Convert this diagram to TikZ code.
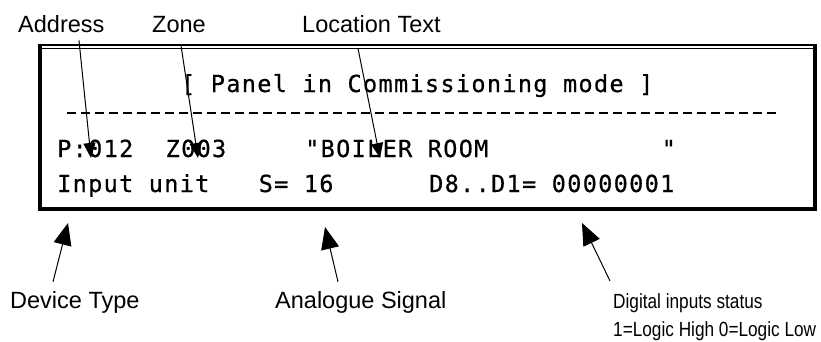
\documentclass[tikz,border=0pt]{standalone}
\usepackage{graphicx}
\usepackage{fontspec}
\setmainfont{Liberation Sans}
\newfontfamily\lcdfont[LetterSpace=5.7,FakeBold=0.6]{DejaVu Sans Mono}
\usetikzlibrary{arrows.meta}

\begin{document}
\begin{tikzpicture}[x=1pt,y=-1pt]
\tikzset{lcd/.style = {font=\lcdfont\fontsize{23.5}{28}\selectfont, anchor=base west, inner sep=0pt}}
\tikzset{tag/.style = {font=\fontsize{23.5}{28}\selectfont, anchor=base west, inner sep=0pt}}
\tikzset{smalltag/.style = {font=\fontsize{20.5}{24}\selectfont, anchor=base west, inner sep=0pt}}
\tikzset{pointer/.style = {-{Triangle[length=15pt,width=12pt]}, line width=1pt}}
\tikzset{bigpointer/.style = {-{Triangle[length=22pt,width=18pt]}, line width=1pt}}

\useasboundingbox (0,0) rectangle (821,341);

%frame
\draw[line width=4pt, line join=miter] (39.5,43.5) -- (39.5,209) -- (815,209) -- (815,43.5);
\draw[line width=2pt] (37.5,44.5) -- (817,44.5);
\draw[line width=1pt] (41,48.5) -- (813,48.5);

%display text
\node[lcd] (mode) at (181,92) {[ Panel in Commissioning mode ]};
\draw[line width=2pt, dash pattern=on 8.5pt off 5.5pt] (67,113) -- (780,113);
\node[lcd] (addr) at (57,157) {P:012};
\node[lcd] (zone) at (165.5,157) {Z003};
\node[lcd] (loc) at (305,157) {"BOILER ROOM};
\node[lcd] (locend) at (661.5,157) {"};
\node[lcd] (unit) at (57,192) {Input unit};
\node[lcd] (sig) at (258.5,192) {S= 16};
\node[lcd] (dig) at (429,192) {D8..D1= 00000001};

%labels
\node[tag] (addrtag) at (18,32) {Address};
\node[tag] (zonetag) at (152,32) {Zone};
\node[tag] (loctag) at (302,32) {Location Text};
\node[tag] (unittag) at (10,308) {Device Type};
\node[tag] (sigtag) at (275,308) {Analogue Signal};
\node[smalltag] (digtag) at (613,308) {\scalebox{0.84}[1]{Digital inputs status}};
\node[smalltag] (logictag) at (613,336) {\scalebox{0.84}[1]{1=Logic High 0=Logic Low}};

%tips
\coordinate (addrtip) at (91,158);
\coordinate (zonetip) at (198,158);
\coordinate (loctip) at (380,158);
\coordinate (unittip) at (68,223);
\coordinate (sigtip) at (325,227);
\coordinate (digtip) at (582,223);

%arrows
\draw[pointer] ([xshift=61pt,yshift=-8pt]addrtag.south west) -- (addrtip);
\draw[pointer] ([xshift=29pt,yshift=-13pt]zonetag.south west) -- (zonetip);
\draw[pointer] ([xshift=56pt,yshift=-16pt]loctag.south west) -- (loctip);
\draw[bigpointer] ([xshift=43pt,yshift=9pt]unittag.north west) -- (unittip);
\draw[bigpointer] ([xshift=63pt,yshift=9pt]sigtag.north west) -- (sigtip);
\draw[bigpointer] ([xshift=-3pt,yshift=12pt]digtag.north west) -- (digtip);

\end{tikzpicture}
\end{document}
